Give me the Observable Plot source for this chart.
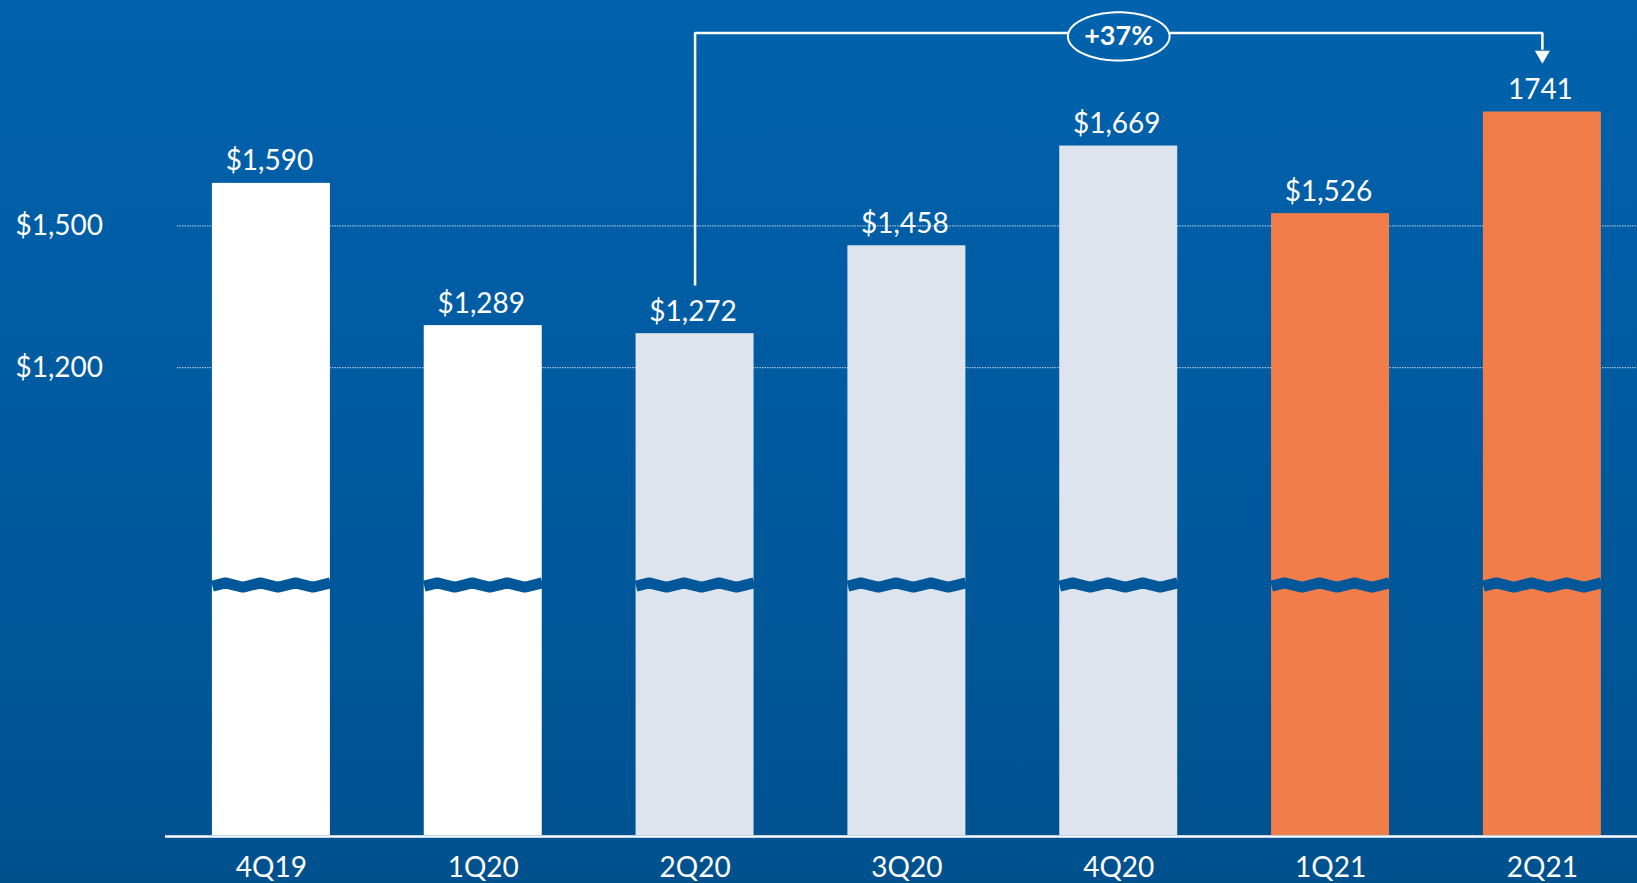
<!DOCTYPE html>
<html>
<head>
<meta charset="utf-8">
<script src="https://cdn.jsdelivr.net/npm/d3@7"></script>
<script src="https://cdn.jsdelivr.net/npm/@observablehq/plot@0.6"></script>
<style>
  html, body { margin: 0; padding: 0; width: 1637px; height: 883px; overflow: hidden;
    background: linear-gradient(180deg, #0062ad 0%, #005a9f 50%, #00518e 100%); }
  #chart svg { display: block; }
</style>
</head>
<body>
<div id="chart"></div>
<script>
// ---- data ----
const quarters = ["4Q19", "1Q20", "2Q20", "3Q20", "4Q20", "1Q21", "2Q21"];
const values = [1590, 1289, 1272, 1458, 1669, 1526, 1741];
const valueLabels = ["$1,590", "$1,289", "$1,272", "$1,458", "$1,669", "$1,526", "1741"];
const periodGroup = ["pre", "pre", "pandemic", "pandemic", "pandemic", "2021", "2021"];
const yTicks = [1200, 1500];
const yTickLabels = ["$1,200", "$1,500"];
const growthLabel = "+37%";
const growthFrom = 2;   // 2Q20
const growthTo = 6;     // 2Q21

// ---- layout / style constants ----
const W = 1637, H = 883;
const yMin = 210, yMax = 1977;
const barHalf = 0.2785;
const breakValue = 740, breakAmp = 4.7;
const bracketLevel = 1908, ovalCenter = 1901, ovalRx = 0.24, ovalRy = 51, arrowGap = 102;
const bg = "#00579a";

const rows = quarters.map((q, i) => ({i, q, value: values[i], label: valueLabels[i], group: periodGroup[i]}));

// zigzag break for each bar (fractions of the bar width)
const zigX = [0, 13, 30.5, 48, 65.5, 83, 100.5, 118].map(d => d / 118);
const zigY = [-0.486, 1, -1, 1, -1, 1, -1, 1];
const wave = rows.flatMap(r => zigX.map((f, k) => ({
  bar: r.i,
  x: r.i - barHalf + f * 2 * barHalf,
  y: breakValue + zigY[k] * breakAmp
})));

// growth bracket
const bracket = [
  {s: 0, x: growthFrom, y: values[growthFrom] + arrowGap},
  {s: 0, x: growthFrom, y: bracketLevel},
  {s: 0, x: 4 - ovalRx, y: bracketLevel},
  {s: 1, x: 4 + ovalRx, y: bracketLevel},
  {s: 1, x: growthTo, y: bracketLevel},
  {s: 1, x: growthTo, y: values[growthTo] + arrowGap + 30}
];
const oval = d3.range(0, 97).map(k => {
  const t = 2 * Math.PI * k / 96;
  return {x: 4 + ovalRx * Math.cos(t), y: ovalCenter + ovalRy * Math.sin(t)};
});

const chart = Plot.plot({
  width: W,
  height: H,
  marginLeft: 165,
  marginRight: 0,
  marginTop: 0,
  marginBottom: 48,
  style: {fontFamily: "Lato, 'Open Sans', sans-serif", background: "transparent", color: "white", overflow: "visible"},
  x: {type: "linear", domain: [-0.5, 6.449], axis: null},
  y: {domain: [yMin, yMax], axis: null},
  color: {domain: ["pre", "pandemic", "2021"], range: ["#ffffff", "#dee4ee", "#f07d4a"]},
  marks: [
    Plot.ruleY(yTicks, {stroke: "#d8e2f0", strokeWidth: 1, strokeDasharray: "1.5,1", insetLeft: 12, strokeOpacity: 0.9}),
    Plot.text(yTicks, {y: d => d, text: (d, i) => yTickLabels[i], frameAnchor: "left", dx: -150, textAnchor: "start", fontSize: 28, fill: "white"}),
    Plot.rect(rows, {x1: d => d.i - barHalf, x2: d => d.i + barHalf, y1: () => yMin, y2: "value", fill: "group"}),
    Plot.line(wave, {x: "x", y: "y", z: "bar", stroke: bg, strokeWidth: 11, strokeLinejoin: "miter", strokeLinecap: "butt"}),
    Plot.ruleY([yMin], {stroke: "white", strokeWidth: 2.5, dy: 1}),
    Plot.text(rows, {x: "i", y: "value", text: "label", dy: -13, dx: -2, lineAnchor: "bottom", fontSize: 28, fill: "white"}),
    Plot.axisX(rows.map(r => r.i), {tickFormat: i => quarters[i], tickSize: 0, tickPadding: 22, fontSize: 28, color: "white", label: null}),
    Plot.line(bracket, {x: "x", y: "y", z: "s", stroke: "white", strokeWidth: 2.5, strokeLinejoin: "miter", strokeLinecap: "butt"}),
    Plot.line(oval, {x: "x", y: "y", stroke: "white", strokeWidth: 2}),
    Plot.dot([{x: growthTo, y: values[growthTo] + arrowGap}], {x: "x", y: "y", symbol: "triangle", r: 5.6, rotate: 180, dy: -8.66, fill: "white", stroke: "none"}),
    Plot.text([{x: 4, y: ovalCenter}], {x: "x", y: "y", text: () => growthLabel, fontSize: 27, fontWeight: "bold", fill: "white", lineAnchor: "middle"})
  ]
});
document.getElementById("chart").appendChild(chart);
</script>
</body>
</html>
